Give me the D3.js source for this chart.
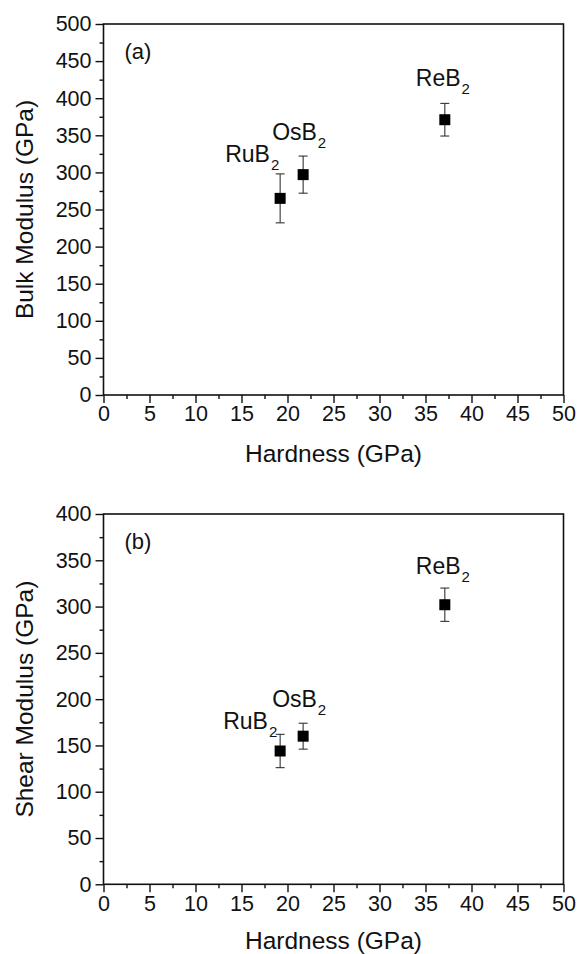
<!DOCTYPE html>
<html>
<head>
<meta charset="utf-8">
<script src="https://cdn.jsdelivr.net/npm/d3@7"></script>
<style>
  body { margin: 0; background: #fff; }
  text { font-family: "Liberation Sans", Arial, sans-serif; fill: #111; }
</style>
</head>
<body>
<div id="graph"></div>
<script>
// Data
const materials = ['RuB', 'OsB', 'ReB']   // each gets a subscript 2
const hardness = [19.2, 21.7, 37.1]
const bulk = [265, 297, 371]
const bulkErr = [33, 25, 22]
const shear = [144, 160, 302]
const shearErr = [18, 14, 18]
const xTicks = [0, 5, 10, 15, 20, 25, 30, 35, 40, 45, 50]

const W = 577, H = 954

const svg = d3.select('#graph').append('svg')
  .attr('width', W)
  .attr('height', H)

// label offsets from the top of each error bar, per panel
const labelOffsetsA = [[-55, -12], [-31, -16], [-29, -17]]
const labelOffsetsB = [[-57, -5], [-31, -16], [-29, -14]]

function panel(opts) {
  const x = d3.scaleLinear().domain([0, 50]).range([103.5, 563.5])
  const y = d3.scaleLinear().domain([0, opts.ymax]).range([opts.bottom, opts.top])
  const g = svg.append('g')

  // frame
  g.append('rect')
    .attr('x', x(0)).attr('y', y(opts.ymax))
    .attr('width', x(50) - x(0)).attr('height', y(0) - y(opts.ymax))
    .attr('fill', 'none').attr('stroke', '#111').attr('stroke-width', 1.6)

  // x axis, major + minor ticks
  const xMin = g.append('g').attr('transform', `translate(0, ${y(0)})`)
    .call(d3.axisBottom(x).tickValues(d3.range(2.5, 50, 5)).tickSize(4).tickFormat(''))
  xMin.select('.domain').remove()
  const xMaj = g.append('g').attr('transform', `translate(0, ${y(0)})`)
    .call(d3.axisBottom(x).tickValues(xTicks).tickSize(8).tickPadding(3))
  xMaj.select('.domain').remove()
  xMaj.selectAll('text').attr('font-size', 21.5).style('font-family', '"Liberation Sans", Arial, sans-serif')

  // y axis, major + minor ticks
  const yMin = g.append('g').attr('transform', `translate(${x(0)}, 0)`)
    .call(d3.axisLeft(y).tickValues(d3.range(25, opts.ymax, 50)).tickSize(4).tickFormat(''))
  yMin.select('.domain').remove()
  const yMaj = g.append('g').attr('transform', `translate(${x(0)}, 0)`)
    .call(d3.axisLeft(y).tickValues(d3.range(0, opts.ymax + 1, 50)).tickSize(8).tickPadding(4))
  yMaj.select('.domain').remove()
  yMaj.selectAll('text').attr('font-size', 21.5).style('font-family', '"Liberation Sans", Arial, sans-serif')
  g.selectAll('.tick line').attr('stroke', '#111').attr('stroke-width', 1.4)

  // axis titles
  g.append('text')
    .attr('x', (x(0) + x(50)) / 2).attr('y', opts.xTitleY)
    .attr('text-anchor', 'middle').attr('font-size', 24.5)
    .text('Hardness (GPa)')
  g.append('text')
    .attr('transform', `translate(33, ${(y(0) + y(opts.ymax)) / 2}) rotate(-90)`)
    .attr('text-anchor', 'middle').attr('font-size', 24.5)
    .text(opts.yTitle)

  // panel letter
  g.append('text')
    .attr('x', x(0) + 21).attr('y', y(opts.ymax) + 35)
    .attr('font-size', 22)
    .text(opts.letter)

  // error bars, markers and labels
  const pts = g.append('g')
  materials.forEach((m, i) => {
    const cx = x(hardness[i])
    const hi = y(opts.vals[i] + opts.errs[i])
    const lo = y(opts.vals[i] - opts.errs[i])
    pts.append('line').attr('x1', cx).attr('x2', cx).attr('y1', hi).attr('y2', lo)
      .attr('stroke', '#333').attr('stroke-width', 1.1)
    ;[hi, lo].forEach(yy => {
      pts.append('line').attr('x1', cx - 4.5).attr('x2', cx + 4.5).attr('y1', yy).attr('y2', yy)
        .attr('stroke', '#333').attr('stroke-width', 1.1)
    })
    pts.append('rect')
      .attr('x', cx - 5.5).attr('y', y(opts.vals[i]) - 5.5)
      .attr('width', 11).attr('height', 11)
      .attr('fill', '#000')

    const off = opts.offsets[i]
    const t = pts.append('text')
      .attr('x', cx + off[0]).attr('y', hi + off[1])
      .attr('font-size', 23)
    t.append('tspan').text(m)
    t.append('tspan').attr('font-size', 15).attr('dx', 1).attr('dy', 8).text('2')
  })
}

panel({
  ymax: 500, top: 24, bottom: 395, xTitleY: 462,
  yTitle: 'Bulk Modulus (GPa)', letter: '(a)',
  vals: bulk, errs: bulkErr, offsets: labelOffsetsA
})

panel({
  ymax: 400, top: 514, bottom: 884.3, xTitleY: 949,
  yTitle: 'Shear Modulus (GPa)', letter: '(b)',
  vals: shear, errs: shearErr, offsets: labelOffsetsB
})
</script>
</body>
</html>
